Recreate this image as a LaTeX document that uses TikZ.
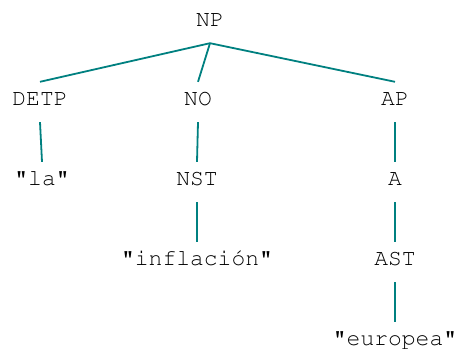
\documentclass[tikz,border=0pt]{standalone}
\usepackage[T1]{fontenc}
\usepackage{courier}
\usetikzlibrary{positioning}
\definecolor{branch}{RGB}{0,128,128}

\begin{document}
\begin{tikzpicture}[
    x=1pt,
    y=-1pt,
    cat/.style={
      anchor=base,
      inner sep=0,
      text height=23pt,
      text depth=17pt,
      font=\ttfamily\fontsize{23}{23}\selectfont,
    },
    edge/.style={
      line width=1.8pt,
      color=branch,
    },
  ]
    \useasboundingbox (0,0) rectangle (457,348);

    % nodes, one row per level
    \node[cat] (np) at (210, 26) {NP};

    \node[cat] (detp) at (40, 105) {DETP};
    \node[cat] (no) at (198, 105) {NO};
    \node[cat] (ap) at (395, 105) {AP};

    \node[cat] (la) at (42, 185) {"la"};
    \node[cat] (nst) at (197, 185) {NST};
    \node[cat] (a) at (395, 185) {A};

    \node[cat] (inflacion) at (197, 265) {"inflaci\'on"};
    \node[cat] (ast) at (395, 265) {AST};

    \node[cat] (europea) at (395, 345) {"europea"};

    % branches
    \draw[edge] (np.south) -- (detp.north);
    \draw[edge] (np.south) -- (no.north);
    \draw[edge] (np.south) -- (ap.north);
    \draw[edge] (detp.south) -- (la.north);
    \draw[edge] (no.south) -- (nst.north);
    \draw[edge] (ap.south) -- (a.north);
    \draw[edge] (nst.south) -- (inflacion.north);
    \draw[edge] (a.south) -- (ast.north);
    \draw[edge] (ast.south) -- (europea.north);
  \end{tikzpicture}
\end{document}
